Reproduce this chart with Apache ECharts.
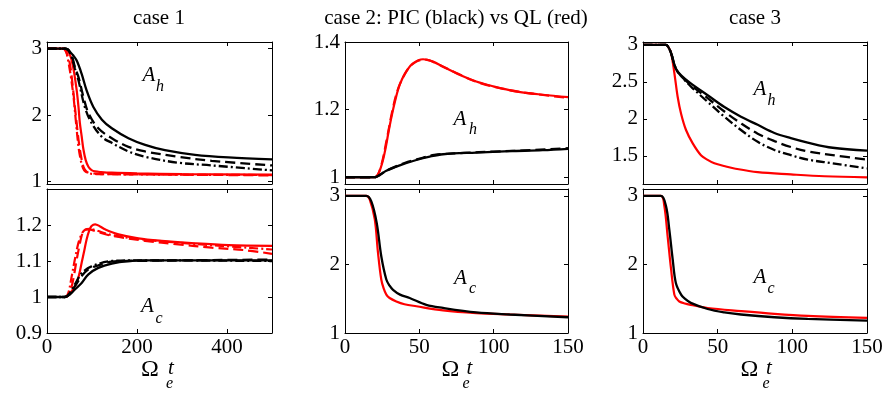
<!DOCTYPE html>
<html>
<head>
<meta charset="utf-8">
<script src="https://cdn.jsdelivr.net/npm/echarts@6/dist/echarts.min.js"></script>
<style>
  html, body { margin: 0; padding: 0; background: #fff; }
  #main { width: 892px; height: 393px; }
</style>
</head>
<body>
<div id="main"></div>
<script>
// ---- case 1, A_h ----
const c1hRedSolidT   = [0, 40, 45, 50, 55, 60, 66, 70, 73, 77, 81, 86, 92, 99, 107, 120, 144, 200, 300, 500];
const c1hRedSolidV   = [3, 3, 2.98, 2.92, 2.82, 2.65, 2.37, 2.12, 1.88, 1.68, 1.48, 1.32, 1.22, 1.17, 1.15, 1.14, 1.13, 1.12, 1.11, 1.10];
const c1hRedDashT    = [0, 36, 40, 44, 50, 55, 62, 66, 70, 75, 81, 86, 92, 100, 120, 300, 500];
const c1hRedDashV    = [3, 3, 2.98, 2.93, 2.80, 2.57, 2.12, 1.87, 1.63, 1.40, 1.22, 1.16, 1.13, 1.12, 1.11, 1.10, 1.09];
const c1hRedDotT     = [0, 38, 42, 47, 53, 59, 64, 70, 75, 80, 85, 95, 110, 300, 500];
const c1hRedDotV     = [3, 3, 2.97, 2.82, 2.58, 2.27, 1.92, 1.52, 1.32, 1.20, 1.15, 1.12, 1.11, 1.10, 1.095];
const c1hBlkSolidT   = [0, 40, 46, 51, 58, 66, 77, 88, 103, 122, 144, 181, 218, 262, 329, 403, 500];
const c1hBlkSolidV   = [3, 3, 2.99, 2.95, 2.90, 2.82, 2.62, 2.37, 2.12, 1.93, 1.80, 1.65, 1.55, 1.47, 1.40, 1.36, 1.33];
const c1hBlkDashT    = [0, 40, 45, 50, 56, 62, 70, 81, 92, 114, 144, 181, 218, 292, 366, 500];
const c1hBlkDashV    = [3, 3, 2.99, 2.96, 2.88, 2.72, 2.57, 2.27, 2.03, 1.80, 1.65, 1.52, 1.45, 1.37, 1.31, 1.24];
const c1hBlkDotT     = [0, 40, 45, 50, 56, 62, 70, 84, 99, 122, 144, 181, 218, 292, 366, 500];
const c1hBlkDotV     = [3, 3, 2.99, 2.95, 2.85, 2.70, 2.52, 2.12, 1.88, 1.67, 1.58, 1.45, 1.37, 1.28, 1.24, 1.165];

// ---- case 1, A_c ----
const c1cRedSolidT   = [0, 40, 51, 58, 66, 72, 77, 83, 88, 94, 99, 107, 118, 129, 159, 203, 255, 329, 403, 500];
const c1cRedSolidV   = [1, 1, 1.011, 1.022, 1.039, 1.065, 1.095, 1.13, 1.16, 1.185, 1.197, 1.202, 1.196, 1.188, 1.174, 1.163, 1.156, 1.149, 1.144, 1.142];
const c1cRedDashT    = [0, 40, 48, 55, 60, 66, 72, 77, 82, 88, 97, 107, 144, 218, 292, 366, 440, 500];
const c1cRedDashV    = [1, 1, 1.005, 1.03, 1.06, 1.104, 1.142, 1.17, 1.183, 1.188, 1.187, 1.183, 1.17, 1.156, 1.146, 1.137, 1.13, 1.12];
const c1cRedDotT     = [0, 40, 47, 55, 62, 70, 77, 84, 95, 107, 144, 218, 292, 366, 500];
const c1cRedDotV     = [1, 1, 1.01, 1.058, 1.105, 1.151, 1.175, 1.186, 1.189, 1.186, 1.172, 1.159, 1.151, 1.144, 1.132];
const c1cBlkSolidT   = [0, 40, 50, 62, 77, 92, 114, 144, 181, 218, 500];
const c1cBlkSolidV   = [1, 1, 1.006, 1.021, 1.039, 1.063, 1.081, 1.093, 1.10, 1.102, 1.102];
const c1cBlkDashT    = [0, 40, 50, 62, 77, 92, 114, 144, 181, 500];
const c1cBlkDashV    = [1, 1, 1.008, 1.03, 1.058, 1.077, 1.088, 1.098, 1.10, 1.104];
const c1cBlkDotT     = [0, 40, 50, 62, 77, 99, 144, 200, 500];
const c1cBlkDotV     = [1, 1, 1.01, 1.035, 1.066, 1.085, 1.10, 1.102, 1.10];

// ---- case 2, A_h ----
const c2hRedSolidT   = [0, 20, 23.3, 26.7, 30, 33.4, 36.8, 41.3, 45.7, 52.5, 59.2, 65.9, 77, 88.3, 99.5, 115, 133, 150];
const c2hRedSolidV   = [1, 1, 1.019, 1.073, 1.151, 1.22, 1.274, 1.313, 1.337, 1.349, 1.342, 1.327, 1.303, 1.283, 1.269, 1.254, 1.244, 1.237];
const c2hRedDashT    = [0, 20, 24, 28, 32, 36, 42, 48, 54, 62, 75, 90, 110, 130, 150];
const c2hRedDashV    = [1, 1, 1.03, 1.11, 1.20, 1.265, 1.318, 1.342, 1.348, 1.336, 1.308, 1.280, 1.258, 1.245, 1.235];
const c2hBlkSolidT   = [0, 20, 23.3, 27.8, 36.8, 48, 57, 65.9, 88.3, 110.8, 133, 150];
const c2hBlkSolidV   = [1, 1, 1.006, 1.019, 1.035, 1.051, 1.061, 1.068, 1.073, 1.077, 1.080, 1.084];
const c2hBlkDashT    = [0, 20, 25, 30, 40, 50, 60, 80, 100, 125, 150];
const c2hBlkDashV    = [1, 1, 1.012, 1.024, 1.042, 1.055, 1.066, 1.072, 1.076, 1.080, 1.086];

// ---- case 2, A_c ----
const c2cRedT        = [0, 14.3, 16.6, 20, 22.2, 24.4, 26, 27.8, 30, 34.5, 40, 48, 65.9, 88.3, 110.8, 150];
const c2cRedV        = [3, 3, 2.95, 2.66, 2.17, 1.78, 1.65, 1.56, 1.51, 1.46, 1.42, 1.39, 1.33, 1.29, 1.27, 1.24];
const c2cBlkT        = [0, 14.3, 17.7, 21.3, 24.4, 27.8, 30, 32.3, 37, 43.5, 54.7, 65.9, 88.3, 110.8, 150];
const c2cBlkV        = [3, 3, 2.92, 2.61, 2.12, 1.78, 1.69, 1.63, 1.56, 1.51, 1.41, 1.365, 1.30, 1.27, 1.23];

// ---- case 3, A_h ----
const c3hRedT        = [0, 15.4, 17, 18.8, 21, 23.2, 25.5, 28.8, 33.3, 38.8, 43, 47.8, 55, 61.2, 76.8, 99, 121.5, 150];
const c3hRedV        = [3, 3, 2.97, 2.89, 2.62, 2.30, 2.07, 1.85, 1.67, 1.51, 1.45, 1.40, 1.36, 1.33, 1.28, 1.25, 1.225, 1.21];
const c3hBlkT        = [0, 15.4, 17, 18.8, 22, 25.5, 32, 43.3, 54.5, 65.6, 76.8, 88, 99, 110.3, 127, 150];
const c3hBlkSolidV   = [3, 3, 2.97, 2.89, 2.68, 2.59, 2.48, 2.32, 2.16, 2.03, 1.92, 1.81, 1.74, 1.68, 1.61, 1.57];
const c3hBlkDashV    = [3, 3, 2.97, 2.89, 2.68, 2.58, 2.46, 2.28, 2.10, 1.94, 1.80, 1.70, 1.62, 1.56, 1.51, 1.45];
const c3hBlkDotV     = [3, 3, 2.97, 2.89, 2.68, 2.58, 2.44, 2.23, 2.03, 1.85, 1.69, 1.58, 1.51, 1.45, 1.40, 1.33];

// ---- case 3, A_c ----
const c3cRedT        = [0, 12, 14.3, 16.5, 18.8, 21, 22.5, 24.3, 28, 32, 43.3, 65.6, 88, 110.3, 150];
const c3cRedV        = [3, 3, 2.85, 2.41, 1.93, 1.56, 1.50, 1.46, 1.43, 1.41, 1.365, 1.32, 1.28, 1.25, 1.22];
const c3cBlkT        = [0, 12, 15.4, 17.6, 19.9, 22, 25.5, 28, 32, 43.3, 54.5, 65.6, 88, 110.3, 150];
const c3cBlkV        = [3, 3, 2.85, 2.51, 2.07, 1.73, 1.56, 1.50, 1.44, 1.35, 1.30, 1.27, 1.23, 1.205, 1.18];

// tick labels
const xTicksCase1 = [0, 200, 400];
const xTicksCase23 = [0, 50, 100, 150];
const yTicksC1h = [1, 2, 3];
const yTicksC1c = [0.9, 1, 1.1, 1.2];
const yTicksC2h = [1, 1.2, 1.4];
const yTicksC2c = [1, 2, 3];
const yTicksC3h = [1.5, 2, 2.5, 3];
const yTicksC3c = [1, 2, 3];

const titles = ['case 1', 'case 2: PIC (black) vs QL (red)', 'case 3'];

const FONT = '"Liberation Serif", "DejaVu Serif", serif';
const RED = '#ff0000';
const BLK = '#000000';
const DASH = [10, 5];
const DASHDOT = [9, 3, 2, 3];

// panel frames: [left, top, width, height]
const panels = [
  { box: [47, 42, 225, 142],  x: [0, 500], y: [0.96, 3.1], xt: xTicksCase1,  yt: yTicksC1h, labels: false },
  { box: [47, 189, 225, 144], x: [0, 500], y: [0.9, 1.3],  xt: xTicksCase1,  yt: yTicksC1c, labels: true },
  { box: [345, 42, 223, 142], x: [0, 150], y: [0.98, 1.4], xt: xTicksCase23, yt: yTicksC2h, labels: false },
  { box: [345, 189, 223, 144],x: [0, 150], y: [1, 3.1],    xt: xTicksCase23, yt: yTicksC2c, labels: true },
  { box: [643, 42, 224, 142], x: [0, 150], y: [1.12, 3.04],xt: xTicksCase23, yt: yTicksC3h, labels: false },
  { box: [643, 189, 224, 144],x: [0, 150], y: [1, 3.1],    xt: xTicksCase23, yt: yTicksC3c, labels: true }
];

const grid = [], xAxis = [], yAxis = [];
panels.forEach((p, i) => {
  grid.push({ left: p.box[0], top: p.box[1], width: p.box[2], height: p.box[3], show: false });
  const axLine = { show: true, onZero: false, lineStyle: { color: BLK, width: 1 } };
  const tick = (vals) => ({ show: true, inside: true, length: 4, customValues: vals, lineStyle: { color: BLK } });
  ['bottom', 'top'].forEach((pos) => {
    xAxis.push({
      type: 'value', gridIndex: i, position: pos, min: p.x[0], max: p.x[1],
      axisLine: axLine, axisTick: tick(p.xt), splitLine: { show: false },
      axisLabel: {
        show: pos === 'bottom' && p.labels, customValues: p.xt, margin: 4,
        color: BLK, fontFamily: FONT, fontSize: 21
      }
    });
  });
  ['left', 'right'].forEach((pos) => {
    yAxis.push({
      type: 'value', gridIndex: i, position: pos, min: p.y[0], max: p.y[1],
      axisLine: axLine, axisTick: tick(p.yt), splitLine: { show: false },
      axisLabel: {
        show: pos === 'left', customValues: p.yt, margin: 5,
        color: BLK, fontFamily: FONT, fontSize: 21
      }
    });
  });
});

function line(panel, t, v, color, type) {
  return {
    type: 'line', xAxisIndex: panel * 2, yAxisIndex: panel * 2,
    data: t.map((x, k) => [x, v[k]]),
    showSymbol: false, symbol: 'none', smooth: 0.35,
    silent: true, animation: false,
    lineStyle: { color: color, width: color === RED ? 2.2 : 2.3, type: type || 'solid' }
  };
}

const series = [
  line(0, c1hRedDotT, c1hRedDotV, RED, DASHDOT),
  line(0, c1hRedDashT, c1hRedDashV, RED, DASH),
  line(0, c1hRedSolidT, c1hRedSolidV, RED),
  line(0, c1hBlkDotT, c1hBlkDotV, BLK, DASHDOT),
  line(0, c1hBlkDashT, c1hBlkDashV, BLK, DASH),
  line(0, c1hBlkSolidT, c1hBlkSolidV, BLK),

  line(1, c1cRedDotT, c1cRedDotV, RED, DASHDOT),
  line(1, c1cRedDashT, c1cRedDashV, RED, DASH),
  line(1, c1cRedSolidT, c1cRedSolidV, RED),
  line(1, c1cBlkDotT, c1cBlkDotV, BLK, DASHDOT),
  line(1, c1cBlkDashT, c1cBlkDashV, BLK, DASH),
  line(1, c1cBlkSolidT, c1cBlkSolidV, BLK),

  line(2, c2hRedDashT, c2hRedDashV, RED, DASH),
  line(2, c2hRedSolidT, c2hRedSolidV, RED),
  line(2, c2hBlkDashT, c2hBlkDashV, BLK, DASH),
  line(2, c2hBlkSolidT, c2hBlkSolidV, BLK),

  line(3, c2cRedT, c2cRedV, RED),
  line(3, c2cBlkT, c2cBlkV, BLK),

  line(4, c3hRedT, c3hRedV, RED),
  line(4, c3hBlkT, c3hBlkDotV, BLK, DASHDOT),
  line(4, c3hBlkT, c3hBlkDashV, BLK, DASH),
  line(4, c3hBlkT, c3hBlkSolidV, BLK),

  line(5, c3cRedT, c3cRedV, RED),
  line(5, c3cBlkT, c3cBlkV, BLK)
];

function txt(s, x, y, size, italic) {
  return {
    type: 'text', x: x, y: y, silent: true,
    style: {
      text: s, fill: BLK,
      font: (italic ? 'italic ' : '') + size + 'px ' + FONT,
      textAlign: 'center', textVerticalAlign: 'middle',
      align: 'center', verticalAlign: 'middle'
    }
  };
}

const graphic = [
  txt(titles[0], 159, 18, 21),
  txt(titles[1], 456, 18, 21),
  txt(titles[2], 755, 18, 21),
  // A_h
  txt('A', 149, 75, 21, true),   txt('h', 160, 87, 16, true),
  txt('A', 460, 119, 21, true),  txt('h', 473, 130, 16, true),
  txt('A', 760, 89, 21, true),   txt('h', 771.5, 101, 16, true),
  // A_c
  txt('A', 147.5, 306, 21, true), txt('c', 159, 319, 16, true),
  txt('A', 460.5, 278, 21, true), txt('c', 472.5, 289, 16, true),
  txt('A', 760, 277, 21, true),   txt('c', 771, 289, 16, true),
  // Omega_e t
  txt('Ω', 150, 370, 24), txt('e', 169.5, 384, 16, true), txt('t', 171, 368, 21, true),
  txt('Ω', 450.5, 370, 24), txt('e', 466, 384, 16, true), txt('t', 469.5, 368, 21, true),
  txt('Ω', 749.5, 370, 24), txt('e', 766, 384, 16, true), txt('t', 769, 368, 21, true)
];

const chart = echarts.init(document.getElementById('main'), null, { renderer: 'canvas' });
chart.setOption({
  backgroundColor: '#ffffff',
  animation: false,
  grid: grid,
  xAxis: xAxis,
  yAxis: yAxis,
  series: series,
  graphic: graphic
});
</script>
</body>
</html>
